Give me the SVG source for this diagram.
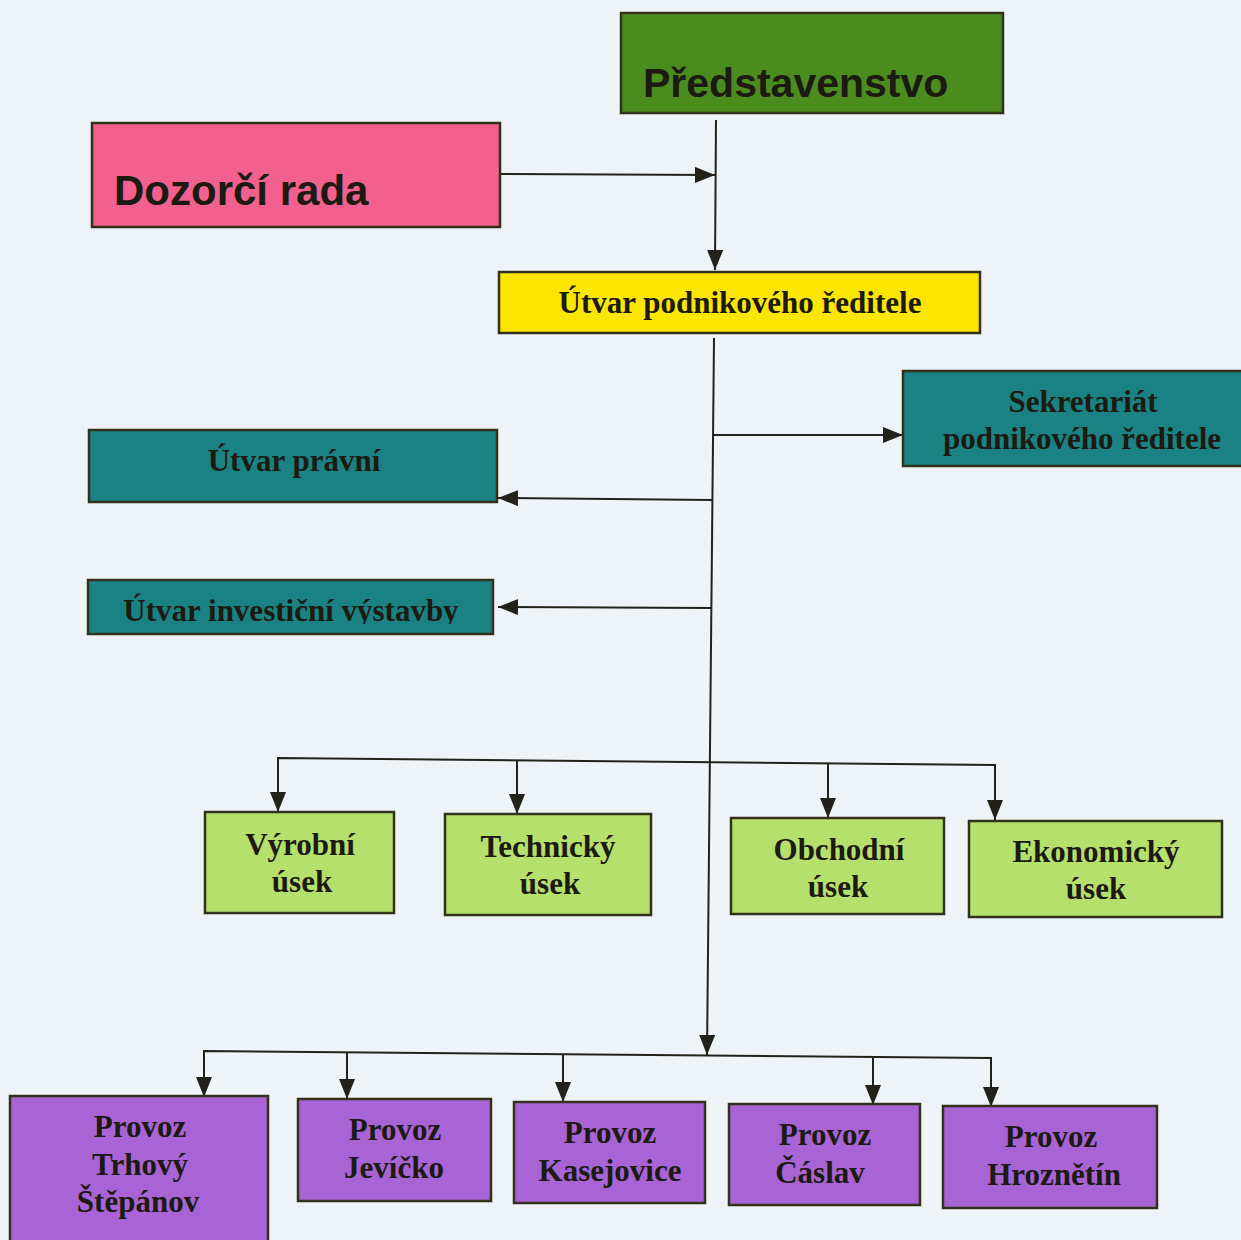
<svg xmlns="http://www.w3.org/2000/svg" width="1241" height="1240" viewBox="0 0 1241 1240">
<defs>
<style>
.box{stroke:#33301c;stroke-width:2.5}
.sans{font-family:"Liberation Sans",Arial,sans-serif;font-weight:bold;fill:#1c1a12}
.serif{font-family:"Liberation Serif","Times New Roman",serif;font-weight:bold;fill:#1c1a12;font-size:31px;text-anchor:middle}
.ln{stroke:#22221a;stroke-width:2;fill:none}
</style>
<marker id="ah" markerUnits="userSpaceOnUse" markerWidth="22" markerHeight="18" refX="20" refY="8" orient="auto">
<path d="M0,0 L20,8 L0,16 Z" fill="#22221a"/>
</marker>
<clipPath id="clipInv"><rect x="88" y="580" width="406" height="44"/></clipPath>
</defs>
<rect width="1241" height="1240" fill="#eef3f7"/>

<g id="connectors">
<line class="ln" x1="716" y1="120" x2="715" y2="270" marker-end="url(#ah)"/>
<line class="ln" x1="500" y1="174" x2="715" y2="175" marker-end="url(#ah)"/>
<line class="ln" x1="714" y1="338" x2="707" y2="1055" marker-end="url(#ah)"/>
<line class="ln" x1="713" y1="435" x2="903" y2="435" marker-end="url(#ah)"/>
<line class="ln" x1="712" y1="500" x2="498" y2="498" marker-end="url(#ah)"/>
<line class="ln" x1="711" y1="608" x2="498" y2="607" marker-end="url(#ah)"/>
<polyline class="ln" points="278,812 278,758 995,765 995,820" marker-end="url(#ah)"/>
<line class="ln" x1="278" y1="760" x2="278" y2="812" marker-end="url(#ah)"/>
<line class="ln" x1="517" y1="760" x2="517" y2="814" marker-end="url(#ah)"/>
<line class="ln" x1="828" y1="763" x2="828" y2="818" marker-end="url(#ah)"/>
<polyline class="ln" points="204,1097 204,1051 991,1058 991,1107"/>
<line class="ln" x1="204" y1="1052" x2="204" y2="1097" marker-end="url(#ah)"/>
<line class="ln" x1="347" y1="1053" x2="347" y2="1099" marker-end="url(#ah)"/>
<line class="ln" x1="563" y1="1054" x2="563" y2="1102" marker-end="url(#ah)"/>
<line class="ln" x1="873" y1="1057" x2="873" y2="1105" marker-end="url(#ah)"/>
<line class="ln" x1="991" y1="1058" x2="991" y2="1107" marker-end="url(#ah)"/>
</g>

<g id="predstavenstvo">
<rect class="box" x="621" y="13" width="382" height="100" fill="#4b8c1e"/>
<text class="sans" x="643" y="97" font-size="41">Představenstvo</text>
</g>
<g id="dozorci-rada">
<rect class="box" x="92" y="123" width="408" height="104" fill="#f2608f"/>
<text class="sans" x="114" y="205" font-size="42">Dozorčí rada</text>
</g>
<g id="utvar-reditele">
<rect class="box" x="499" y="272" width="481" height="61" fill="#fbe503"/>
<text class="serif" x="740" y="313">Útvar podnikového ředitele</text>
</g>
<g id="sekretariat">
<rect class="box" x="903" y="371" width="340" height="95" fill="#1a8282"/>
<text class="serif" x="1083" y="412">Sekretariát</text>
<text class="serif" x="1082" y="449">podnikového ředitele</text>
</g>
<g id="utvar-pravni">
<rect class="box" x="89" y="430" width="408" height="72" fill="#1a8282"/>
<text class="serif" x="294" y="471" font-size="32">Útvar právní</text>
</g>
<g id="utvar-investicni">
<rect class="box" x="88" y="580" width="405" height="54" fill="#1a8282"/>
<text class="serif" x="291" y="621" font-size="32" clip-path="url(#clipInv)">Útvar investiční výstavby</text>
</g>

<g id="vyrobni">
<rect class="box" x="205" y="812" width="189" height="101" fill="#b6e06c"/>
<text class="serif" x="300" y="855">Výrobní</text>
<text class="serif" x="302" y="892">úsek</text>
</g>
<g id="technicky">
<rect class="box" x="445" y="814" width="206" height="101" fill="#b6e06c"/>
<text class="serif" x="548" y="857">Technický</text>
<text class="serif" x="550" y="894">úsek</text>
</g>
<g id="obchodni">
<rect class="box" x="731" y="818" width="213" height="96" fill="#b6e06c"/>
<text class="serif" x="839" y="860">Obchodní</text>
<text class="serif" x="838" y="897">úsek</text>
</g>
<g id="ekonomicky">
<rect class="box" x="969" y="821" width="253" height="96" fill="#b6e06c"/>
<text class="serif" x="1096" y="862">Ekonomický</text>
<text class="serif" x="1096" y="899">úsek</text>
</g>

<g id="provoz-trhovy-stepanov">
<rect class="box" x="10" y="1096" width="258" height="150" fill="#a864d4"/>
<text class="serif" x="140" y="1137">Provoz</text>
<text class="serif" x="140" y="1175">Trhový</text>
<text class="serif" x="138" y="1212">Štěpánov</text>
</g>
<g id="provoz-jevicko">
<rect class="box" x="298" y="1099" width="193" height="102" fill="#a864d4"/>
<text class="serif" x="395" y="1140">Provoz</text>
<text class="serif" x="394" y="1178">Jevíčko</text>
</g>
<g id="provoz-kasejovice">
<rect class="box" x="514" y="1102" width="191" height="101" fill="#a864d4"/>
<text class="serif" x="610" y="1143">Provoz</text>
<text class="serif" x="610" y="1181">Kasejovice</text>
</g>
<g id="provoz-caslav">
<rect class="box" x="729" y="1104" width="191" height="101" fill="#a864d4"/>
<text class="serif" x="825" y="1145">Provoz</text>
<text class="serif" x="820" y="1183">Čáslav</text>
</g>
<g id="provoz-hroznetin">
<rect class="box" x="943" y="1106" width="214" height="102" fill="#a864d4"/>
<text class="serif" x="1051" y="1147">Provoz</text>
<text class="serif" x="1054" y="1185">Hroznětín</text>
</g>
</svg>
